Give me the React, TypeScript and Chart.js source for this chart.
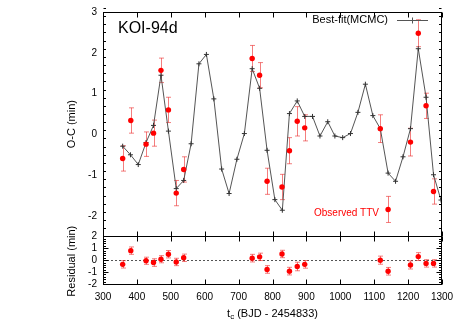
import React, { useEffect, useRef } from 'react';
import { Chart, registerables } from 'chart.js';
Chart.register(...registerables);

// Best-fit (MCMC) model: transit epochs (BJD - 2454833) and O-C (min)
const modelT = [358, 381, 404, 427, 449, 471, 493, 516, 538, 560, 583, 605, 627, 650, 672, 695, 717, 740, 762, 784, 807, 829, 850, 873, 895, 918, 940, 963, 984, 1007, 1030, 1052, 1074, 1096, 1118, 1141, 1163, 1185, 1207, 1230, 1253, 1275, 1297, 1320];
const modelOC = [-0.29, -0.5, -0.74, -0.2, 0.22, 1.45, 0.08, -1.33, -1.13, -0.23, 1.73, 1.96, 0.87, -0.85, -1.45, -0.61, 0.02, 1.61, 1.13, -0.39, -1.6, -1.86, 0.51, 0.82, 0.44, 0.44, -0.04, 0.31, -0.04, -0.08, 0.02, 0.54, 1.23, 0.46, 0.14, -0.95, -1.15, -0.55, 0.14, 2.1, 0.91, -0.99, -1.61, -1.75];

// Observed TTV
const obsT = [358, 382, 427, 449, 471, 493, 516, 538, 740, 762, 784, 828, 850, 873, 895, 1118, 1141, 1207, 1230, 1253, 1275];
const obsOC = [-0.59, 0.34, -0.24, 0.03, 1.57, 0.6, -1.44, -0.86, 1.86, 1.45, -1.15, -1.29, -0.4, 0.32, 0.16, 0.14, -1.84, -0.19, 2.48, 0.7, -1.4];
const obsErr = [0.31, 0.31, 0.3, 0.32, 0.3, 0.31, 0.31, 0.31, 0.32, 0.31, 0.32, 0.31, 0.32, 0.36, 0.32, 0.34, 0.32, 0.34, 0.33, 0.31, 0.31];

// Residuals
const resid = [-0.35, 0.8, -0.05, -0.2, 0.08, 0.5, -0.15, 0.2, 0.17, 0.28, -0.78, 0.52, -0.92, -0.53, -0.35, 0.0, -0.93, -0.4, 0.3, -0.27, -0.27];
const residErr = [0.31, 0.31, 0.3, 0.32, 0.3, 0.31, 0.31, 0.31, 0.32, 0.31, 0.32, 0.31, 0.32, 0.36, 0.32, 0.34, 0.32, 0.34, 0.33, 0.31, 0.31];

const xTicks = [300, 400, 500, 600, 700, 800, 900, 1000, 1100, 1200, 1300];
const ocTicks = [-2, -1, 0, 1, 2, 3];
const resTicks = [-2, -1, 0, 1, 2];

const FONT = "'Liberation Sans', Arial, Helvetica, sans-serif";
const ERR_COLOR = 'rgba(235, 40, 40, 0.6)';

const decor = {
  id: 'decor',
  beforeDatasetsDraw(chart: any) {
    const ctx = chart.ctx;
    const x = chart.scales.x, y = chart.scales.y, y2 = chart.scales.y2;
    ctx.save();
    // dotted zero line in residual panel
    ctx.strokeStyle = '#555';
    ctx.lineWidth = 1;
    ctx.setLineDash([2, 2]);
    const z = Math.round(y2.getPixelForValue(0)) + 0.5;
    ctx.beginPath();
    ctx.moveTo(x.left, z);
    ctx.lineTo(x.right, z);
    ctx.stroke();
    ctx.setLineDash([]);
    // error bars
    const drawErr = (ts: number[], vs: number[], es: number[], sc: any) => {
      ctx.strokeStyle = ERR_COLOR;
      ctx.lineWidth = 1;
      for (let i = 0; i < ts.length; i++) {
        const px = Math.round(x.getPixelForValue(ts[i])) + 0.5;
        const p1 = sc.getPixelForValue(vs[i] + es[i]);
        const p2 = sc.getPixelForValue(vs[i] - es[i]);
        ctx.beginPath();
        ctx.moveTo(px, p1);
        ctx.lineTo(px, p2);
        ctx.moveTo(px - 2.5, p1);
        ctx.lineTo(px + 2.5, p1);
        ctx.moveTo(px - 2.5, p2);
        ctx.lineTo(px + 2.5, p2);
        ctx.stroke();
      }
    };
    drawErr(obsT, obsOC, obsErr, y);
    drawErr(obsT, resid, residErr, y2);
    ctx.restore();
  },
  afterDraw(chart: any) {
    const ctx = chart.ctx;
    const x = chart.scales.x, y = chart.scales.y, y2 = chart.scales.y2;
    const L = Math.round(x.left) + 0.5, R = Math.round(x.right) - 0.5;
    ctx.save();
    ctx.strokeStyle = '#000';
    ctx.lineWidth = 1;
    const panel = (sc: any, majors: number[], minorStep: number) => {
      const T = Math.round(sc.top) + 0.5, B = Math.round(sc.bottom) + 0.5;
      ctx.strokeRect(L, T, R - L, B - T);
      ctx.beginPath();
      for (const t of xTicks) {
        const px = Math.round(x.getPixelForValue(t)) + 0.5;
        ctx.moveTo(px, T); ctx.lineTo(px, T + 5);
        ctx.moveTo(px, B); ctx.lineTo(px, B - 5);
      }
      const lo = sc.min, hi = sc.max;
      const n = Math.round((hi - lo) / minorStep);
      for (let k = 0; k <= n; k++) {
        const v = lo + k * minorStep;
        const isMajor = majors.some((m) => Math.abs(m - v) < 1e-6);
        const len = isMajor ? 5 : 2.5;
        const py = Math.round(sc.getPixelForValue(v)) + 0.5;
        ctx.moveTo(L, py); ctx.lineTo(L + len, py);
        ctx.moveTo(R, py); ctx.lineTo(R - len, py);
      }
      ctx.stroke();
    };
    panel(y, ocTicks, 0.2);
    panel(y2, resTicks, 0.2);

    // axis titles
    ctx.fillStyle = '#000';
    ctx.font = `11px ${FONT}`;
    ctx.textAlign = 'center';
    ctx.textBaseline = 'middle';
    const vtext = (txt: string, cx: number, cy: number) => {
      ctx.save();
      ctx.translate(cx, cy);
      ctx.rotate(-Math.PI / 2);
      ctx.fillText(txt, 0, 0);
      ctx.restore();
    };
    vtext('O-C (min)', 72, (y.top + y.bottom) / 2);
    vtext('Residual (min)', 72, (y2.top + y2.bottom) / 2 + 1);

    // x title with subscript
    const main = ' (BJD - 2454833)';
    ctx.textAlign = 'left';
    ctx.font = `11px ${FONT}`;
    const wT = ctx.measureText('t').width;
    const wM = ctx.measureText(main).width;
    ctx.font = `8px ${FONT}`;
    const wC = ctx.measureText('c').width;
    const total = wT + wC + wM;
    let sx = (x.left + x.right) / 2 - total / 2;
    const ty = 314;
    ctx.font = `11px ${FONT}`;
    ctx.fillText('t', sx, ty);
    sx += wT;
    ctx.font = `8px ${FONT}`;
    ctx.fillText('c', sx, ty + 3);
    sx += wC;
    ctx.font = `11px ${FONT}`;
    ctx.fillText(main, sx, ty);

    // panel label
    ctx.font = `16px ${FONT}`;
    ctx.fillText('KOI-94d', 118, 29);

    // legend
    ctx.font = `11px ${FONT}`;
    ctx.textAlign = 'right';
    ctx.fillText('Best-fit(MCMC)', 388, 20);
    ctx.strokeStyle = '#555';
    ctx.beginPath();
    ctx.moveTo(397, 20.5); ctx.lineTo(428, 20.5);
    ctx.moveTo(412.5, 17.5); ctx.lineTo(412.5, 23.5);
    ctx.stroke();

    ctx.fillStyle = '#ff0000';
    ctx.font = `10px ${FONT}`;
    ctx.fillText('Observed TTV', 379, 213);
    ctx.restore();
  },
};

export default function App() {
  const ref = useRef<HTMLCanvasElement | null>(null);
  useEffect(() => {
    if (!ref.current) return;
    const tickFont = { family: FONT, size: 10 };
    const chart = new Chart(ref.current, {
      type: 'scatter',
      data: {
        datasets: [
          {
            label: 'Best-fit(MCMC)',
            data: modelT.map((t, i) => ({ x: t, y: modelOC[i] })),
            yAxisID: 'y',
            order: 3,
            showLine: true,
            borderColor: '#555',
            borderWidth: 1,
            pointStyle: 'cross',
            pointRadius: 2.5,
            pointBorderColor: '#333',
            pointBorderWidth: 1,
            pointBackgroundColor: '#333',
          },
          {
            label: 'Observed TTV',
            data: obsT.map((t, i) => ({ x: t, y: obsOC[i] })),
            yAxisID: 'y',
            order: 1,
            pointRadius: 2.7,
            pointBackgroundColor: '#ff0000',
            pointBorderColor: '#ff0000',
            pointBorderWidth: 0,
          },
          {
            label: 'Residual',
            data: obsT.map((t, i) => ({ x: t, y: resid[i] })),
            yAxisID: 'y2',
            order: 1,
            pointRadius: 2.7,
            pointBackgroundColor: '#ff0000',
            pointBorderColor: '#ff0000',
            pointBorderWidth: 0,
          },
        ],
      },
      options: {
        animation: false,
        responsive: false,
        devicePixelRatio: 1,
        layout: { padding: { top: 10, right: 21, left: 0, bottom: 0 } },
        plugins: { legend: { display: false }, tooltip: { enabled: false } },
        scales: {
          x: {
            type: 'linear',
            position: 'bottom',
            min: 300,
            max: 1300,
            afterBuildTicks: (s: any) => { s.ticks = xTicks.map((v) => ({ value: v })); },
            afterFit: (s: any) => { s.height = 40; },
            grid: { display: false, drawTicks: false },
            border: { display: false },
            ticks: { color: '#000', font: tickFont, padding: 7, maxRotation: 0, autoSkip: false, callback: (v: any) => String(v) },
          },
          y2: {
            type: 'linear',
            position: 'left',
            stack: 'panels',
            stackWeight: 48,
            min: -2,
            max: 2,
            afterBuildTicks: (s: any) => { s.ticks = resTicks.map((v) => ({ value: v })); },
            afterFit: (s: any) => { s.width = 103; },
            grid: { display: false, drawTicks: false },
            border: { display: false },
            ticks: { color: '#000', font: tickFont, padding: 6, autoSkip: false, callback: (v: any) => String(v) },
          },
          y: {
            type: 'linear',
            position: 'left',
            stack: 'panels',
            stackWeight: 226,
            min: -2.5,
            max: 3,
            afterBuildTicks: (s: any) => { s.ticks = ocTicks.map((v) => ({ value: v })); },
            afterFit: (s: any) => { s.width = 103; },
            grid: { display: false, drawTicks: false },
            border: { display: false },
            ticks: { color: '#000', font: tickFont, padding: 6, autoSkip: false, callback: (v: any) => String(v) },
          },
        },
      } as any,
      plugins: [decor],
    });
    return () => chart.destroy();
  }, []);
  return (
    <div style={{ position: 'fixed', left: 0, top: 0, width: 463, height: 324, background: '#fff' }}>
      <canvas ref={ref} width={463} height={324} style={{ width: 463, height: 324, display: 'block' }} />
    </div>
  );
}
